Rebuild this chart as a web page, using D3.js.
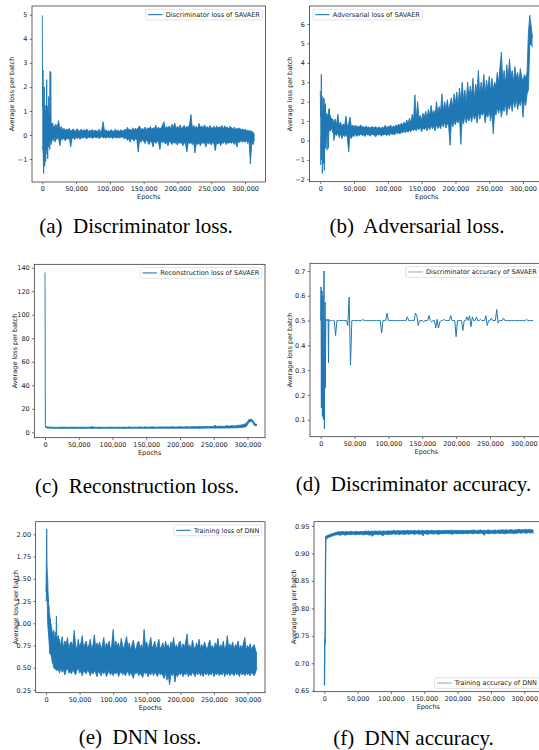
<!DOCTYPE html>
<html>
<head>
<meta charset="utf-8">
<script src="https://cdn.jsdelivr.net/npm/d3@7"></script>
<style>
  body { margin: 0; background: #fff; }
  svg { display: block; }
  .tick text, .lbl, .leg { font-family: "DejaVu Sans", sans-serif; font-size: 6.5px; fill: #222; }
  .cap { font-family: "Liberation Serif", "Times New Roman", serif; font-size: 21px; fill: #000; white-space: pre; }
</style>
</head>
<body>
<svg id="fig" width="539" height="750"></svg>
<script>
// Logging grid: every 500 epochs for the first 20k, then every 2000 epochs.
// Dense per-batch curves are stored as the high / low of each logging bin.
const EARLY_STEP = 500;
const EARLY_COUNT = 40;
const LATE_START = 20000;
const LATE_STEP = 2000;

// (a) Discriminator loss of SAVAER
const discLossHi = [
  4.97,1.2,2.7,1.0,0.9,1.7,2.0,0.8,1.25,0.9,
  0.7,1.0,0.8,2.3,0.7,1.2,0.6,0.9,0.7,1.6,
  0.6,0.9,0.6,2.65,0.5,2.6,0.5,0.5,0.45,0.45,
  0.4,0.5,0.35,0.3,0.35,0.35,0.3,0.4,0.3,0.3,
  0.45,0.3,0.6,0.25,0.35,0.2,0.28,0.18,0.25,0.2,
  0.28,0.15,0.22,0.25,0.15,0.2,0.26,0.14,0.2,0.24,
  0.15,0.22,0.18,0.25,0.14,0.2,0.16,0.23,0.15,0.2,
  0.18,0.14,0.24,0.15,0.2,0.55,0.16,0.22,0.14,0.19,
  0.15,0.22,0.17,0.14,0.24,0.16,0.2,0.14,0.22,0.18,
  0.16,0.25,0.18,0.32,0.2,0.24,0.17,0.3,0.2,0.28,
  0.22,0.3,0.38,0.2,0.28,0.22,0.33,0.2,0.3,0.25,
  0.35,0.22,0.3,0.26,0.4,0.22,0.33,0.25,0.3,0.42,
  0.55,0.25,0.35,0.28,0.38,0.24,0.45,0.3,0.5,0.26,
  0.36,0.28,0.42,0.25,0.33,0.4,0.27,0.36,0.3,0.45,
  0.85,0.28,0.4,0.3,0.36,0.26,0.48,0.3,0.38,0.27,
  0.42,0.3,0.35,0.26,0.4,0.3,0.28,0.36,0.25,0.38,
  0.26,0.35,0.3,0.4,0.25,0.38,0.28,0.34,0.24,0.36,
  0.3,0.25,0.33,0.22,0.28,0.24,0.3,0.2,0.26,0.2,
  0.24,0.18,0.2,0.16,0.18,0.14,0.12,-0.02
];
const discLossLo = [
  -0.6,-0.6,-0.5,-1.0,-1.6,-0.8,-0.5,-1.3,-0.6,-0.9,
  -1.1,-0.5,-0.6,-0.4,-0.8,-0.5,-1.0,-0.4,-0.5,-0.3,
  -0.3,-0.35,-0.6,-0.2,-0.25,-0.3,-0.4,-0.2,-0.3,-0.2,
  -0.2,-0.15,-0.15,-0.1,-0.25,-0.1,-0.1,-0.15,-0.3,-0.1,
  -0.2,-0.15,-0.12,-0.45,-0.15,-0.2,-0.1,-0.25,-0.12,-0.18,
  -0.1,-0.5,-0.15,-0.1,-0.2,-0.08,-0.15,-0.1,-0.18,-0.1,
  -0.14,-0.08,-0.12,-0.16,-0.08,-0.12,-0.06,-0.15,-0.1,-0.08,
  -0.12,-0.08,-0.15,-0.1,-0.06,-0.12,-0.09,-0.14,-0.08,-0.1,
  -0.12,-0.07,-0.15,-0.1,-0.08,-0.14,-0.08,-0.12,-0.1,-0.07,
  -0.12,-0.16,-0.1,-0.22,-0.15,-0.3,-0.12,-0.2,-0.25,-0.15,
  -0.2,-0.7,-0.18,-0.3,-0.2,-0.25,-0.35,-0.2,-0.28,-0.4,
  -0.25,-0.3,-0.5,-0.22,-0.35,-0.25,-0.3,-0.6,-0.25,-0.32,
  -0.25,-0.38,-0.28,-0.45,-0.25,-0.3,-0.4,-0.28,-0.35,-0.3,
  -0.42,-0.28,-0.35,-0.3,-0.45,-0.3,-0.38,-0.7,-0.3,-0.36,
  -0.3,-0.4,-0.3,-0.75,-0.32,-0.4,-0.3,-0.45,-0.3,-0.35,
  -0.3,-0.5,-0.3,-0.38,-0.28,-0.42,-0.3,-0.35,-0.65,-0.3,
  -0.38,-0.28,-0.45,-0.3,-0.35,-0.25,-0.4,-0.3,-0.35,-0.28,
  -0.35,-0.25,-0.4,-0.28,-0.5,-0.25,-0.32,-0.22,-0.3,-0.25,
  -0.3,-0.22,-0.35,-0.25,-1.2,-0.3,-0.4,-0.15
];

// (b) Adversarial loss of SAVAER
const advLossHi = [
  2.55,1.2,1.5,3.4,1.3,2.3,1.4,1.5,1.2,2.2,
  1.3,2.15,1.2,1.8,1.3,1.9,1.2,1.3,1.25,1.4,
  1.2,1.2,1.3,1.35,1.2,1.6,1.3,1.65,1.2,1.3,
  1.2,1.2,1.1,1.1,1.15,1.0,1.1,1.1,1.05,0.95,
  0.9,1.1,0.8,1.35,0.75,0.95,0.7,0.85,0.75,1.25,
  0.7,0.85,1.2,0.7,0.8,0.65,0.8,0.68,0.75,0.7,
  0.8,0.68,0.72,0.65,0.75,0.66,0.7,0.62,0.72,0.68,
  0.65,0.72,0.6,0.7,0.66,0.62,0.7,0.64,0.78,0.66,
  0.72,0.68,0.8,0.66,0.74,0.7,0.8,0.72,0.85,0.75,
  0.9,0.78,0.95,0.82,1.05,0.88,1.15,0.9,1.35,1.0,
  2.35,1.05,2.0,1.15,1.3,1.05,1.4,1.2,1.5,1.15,
  1.6,1.25,1.8,1.35,1.55,1.3,2.0,1.4,1.75,1.5,
  2.4,1.5,2.0,1.6,2.1,1.55,1.9,2.2,1.7,2.4,
  1.9,2.5,1.8,2.7,2.0,3.0,2.1,2.6,1.9,3.0,
  2.2,2.8,2.3,3.2,2.1,2.9,2.5,3.6,2.3,3.0,
  2.5,3.4,2.4,3.1,2.6,3.3,2.5,3.2,2.6,3.0,
  2.8,3.5,2.9,3.8,4.55,3.0,3.6,2.9,3.9,3.1,
  4.2,3.2,3.6,3.0,3.8,3.2,3.5,3.0,3.7,3.3,
  3.0,3.4,3.2,3.5,5.5,6.45,5.9,5.3
];
const advLossLo = [
  -1.25,-1.25,-0.5,0.2,-1.0,-0.3,-1.7,-0.5,-0.5,-0.3,
  -1.2,-0.2,-1.55,-0.3,0.1,-0.2,-0.4,0.1,0.2,0.2,
  -0.5,0.3,0.4,0.3,-0.4,0.4,0.5,0.5,0.6,0.5,
  0.5,0.55,0.7,0.6,0.6,0.55,0.4,0.5,0.5,0.45,
  0.0,0.35,0.25,0.4,0.15,0.35,0.1,0.3,0.2,0.35,
  0.15,-0.6,0.25,0.1,0.3,0.2,0.35,0.2,0.3,0.25,
  0.35,0.25,0.3,0.2,0.35,0.28,0.3,0.22,0.35,0.28,
  0.3,0.18,0.32,0.27,0.35,0.22,0.3,0.28,0.34,0.25,
  0.33,0.25,0.38,0.3,0.35,0.28,0.42,0.35,0.4,0.33,
  0.45,0.38,0.5,0.4,0.5,0.42,0.55,0.45,0.6,0.5,
  0.62,0.5,0.65,0.55,0.7,0.45,0.68,0.55,0.7,0.5,
  0.72,0.55,0.8,0.6,0.75,0.5,0.85,0.62,0.8,0.6,
  0.9,0.7,0.95,0.65,0.9,0.75,-0.25,0.95,0.7,1.0,
  0.8,1.1,0.9,1.2,-0.2,1.1,0.85,1.3,0.9,1.2,
  1.0,1.3,0.95,1.4,1.1,1.3,0.9,1.5,1.1,1.4,
  1.3,1.5,0.9,1.4,1.2,1.6,1.0,1.5,0.35,1.5,
  1.3,1.7,1.4,1.8,1.2,1.7,1.5,1.9,1.3,1.8,
  1.6,2.0,1.5,2.1,1.7,2.2,1.6,2.0,1.8,2.2,
  1.2,2.1,1.8,2.4,2.6,4.9,5.0,4.8
];

// (c) Reconstruction loss of SAVAER
const reconLossHi = [
  136,6.5,5.2,5.0,5.0,4.8,4.8,4.6,4.6,4.5,
  4.5,4.5,4.4,4.5,4.5,4.4,4.4,4.4,4.3,4.3,
  4.4,4.3,4.3,4.3,4.2,4.3,4.3,4.2,4.2,4.3,
  4.3,4.2,4.2,4.2,4.1,4.2,4.3,4.2,4.2,4.2,
  4.3,4.4,4.3,4.3,4.4,4.4,4.2,4.3,4.3,4.3,
  4.4,4.4,4.3,4.3,4.3,4.2,4.4,4.4,4.3,4.3,
  4.3,4.2,4.4,4.4,4.3,5.0,4.3,4.3,4.2,4.2,
  4.4,4.4,4.3,4.3,4.2,4.2,4.3,4.3,4.4,4.4,
  4.3,4.3,4.2,4.2,4.4,4.4,4.3,4.3,4.4,4.4,
  4.3,4.3,4.5,4.5,4.3,4.3,4.4,4.4,4.3,4.3,
  4.5,4.5,4.4,4.4,4.6,4.6,4.4,4.4,4.5,4.5,
  4.6,4.6,4.4,4.4,4.5,4.5,4.6,4.6,4.5,4.5,
  4.6,4.6,4.5,4.5,4.7,4.7,4.5,4.5,4.6,4.6,
  4.7,4.7,4.5,4.5,4.8,4.8,4.6,4.6,4.7,4.7,
  4.8,4.8,4.7,4.7,4.9,4.9,4.7,4.7,5.0,5.0,
  4.8,4.8,5.0,5.0,4.9,4.9,6.0,5.1,5.1,5.1,
  5.2,5.2,5.0,5.0,5.5,5.5,5.3,5.3,5.6,5.6,
  5.4,5.4,5.8,5.8,6.0,6.0,6.5,6.5,7.0,7.5,
  9.0,10.8,11.0,11.0,10.0,8.0,7.0,6.8
];
const reconLossLo = [
  4.5,5.0,4.2,4.0,3.9,3.8,3.8,3.7,3.7,3.6,
  3.6,3.6,3.5,3.5,3.5,3.5,3.5,3.4,3.4,3.4,
  3.4,3.4,3.4,3.4,3.4,3.4,3.3,3.3,3.4,3.3,
  3.3,3.3,3.3,3.3,3.3,3.3,3.3,3.3,3.3,3.3,
  3.4,3.4,3.3,3.3,3.4,3.4,3.3,3.3,3.4,3.4,
  3.4,3.4,3.3,3.3,3.4,3.4,3.4,3.4,3.3,3.3,
  3.4,3.4,3.4,3.4,3.3,3.3,3.4,3.4,3.4,3.4,
  3.3,3.3,3.4,3.4,3.4,3.4,3.4,3.4,3.4,3.4,
  3.4,3.4,3.4,3.4,3.4,3.4,3.4,3.4,3.3,3.3,
  3.4,3.4,3.4,3.4,3.4,3.4,3.4,3.4,3.4,3.4,
  3.4,3.4,3.4,3.4,3.4,3.4,3.4,3.4,3.4,3.4,
  3.4,3.4,3.4,3.4,3.5,3.5,3.4,3.4,3.5,3.5,
  3.5,3.5,3.4,3.4,3.5,3.5,3.5,3.5,3.5,3.5,
  3.5,3.5,3.5,3.5,3.5,3.5,3.5,3.5,3.5,3.5,
  3.5,3.5,3.5,3.5,3.5,3.5,3.5,3.5,3.6,3.6,
  3.6,3.6,3.6,3.6,3.6,3.6,3.6,3.6,3.6,3.6,
  3.6,3.6,3.6,3.6,3.7,3.7,3.7,3.7,3.7,3.7,
  3.8,3.8,3.9,3.9,4.0,4.0,4.2,4.3,4.5,4.8,
  6.5,8.5,9.0,9.5,8.0,6.0,5.5,5.8
];

// (d) Discriminator accuracy of SAVAER (one value per logging step)
const discAcc = [
  0.5,0.636,0.147,0.59,0.62,0.113,0.6,0.42,0.1,0.58,
  0.7,0.063,0.43,0.575,0.23,0.5,0.505,0.5,0.5,0.505,
  0.5,0.5,0.5,0.33,0.505,0.5,0.5,0.5,0.5,0.5,
  0.5,0.5,0.5,0.5,0.5,0.5,0.5,0.5,0.5,0.5,
  0.5,0.44,0.5,0.5,0.5,0.5,0.5,0.5,0.5,0.5,
  0.48,0.595,0.32,0.5,0.5,0.5,0.5,0.5,0.5,0.5,
  0.5,0.505,0.5,0.5,0.5,0.5,0.5,0.5,0.5,0.5,
  0.5,0.5,0.5,0.5,0.5,0.45,0.5,0.5,0.5,0.53,
  0.5,0.5,0.5,0.5,0.5,0.5,0.5,0.5,0.5,0.5,
  0.5,0.5,0.5,0.5,0.515,0.5,0.5,0.5,0.5,0.5,
  0.53,0.52,0.48,0.5,0.5,0.5,0.495,0.5,0.5,0.5,
  0.52,0.5,0.495,0.5,0.5,0.47,0.505,0.47,0.495,0.5,
  0.5,0.505,0.5,0.5,0.5,0.5,0.52,0.5,0.5,0.5,
  0.435,0.5,0.5,0.5,0.5,0.46,0.5,0.5,0.515,0.5,
  0.52,0.475,0.515,0.5,0.5,0.515,0.5,0.5,0.505,0.5,
  0.5,0.5,0.52,0.48,0.5,0.5,0.51,0.5,0.5,0.5,
  0.545,0.49,0.5,0.5,0.5,0.51,0.5,0.5,0.5,0.5,
  0.5,0.5,0.5,0.5,0.5,0.5,0.5,0.5,0.5,0.5,
  0.5,0.5,0.505,0.5,0.5,0.5,0.5,0.5
];

// (e) Training loss of DNN
const dnnLossHi = [
  1.35,1.65,2.06,1.65,1.55,1.5,1.35,1.3,1.2,1.2,
  1.1,1.1,1.05,1.05,1.0,1.0,0.95,0.95,0.9,0.9,
  0.88,0.88,0.92,0.92,0.85,0.85,0.8,0.9,0.9,0.9,
  0.85,1.08,0.85,0.85,0.82,0.82,0.86,0.86,0.8,0.8,
  0.82,0.74,0.85,0.72,0.8,0.76,0.84,0.7,0.78,0.79,
  0.74,0.92,0.76,0.7,0.82,0.73,0.78,0.86,0.72,0.77,
  0.8,0.71,0.76,0.82,0.7,0.76,0.87,0.72,0.78,0.74,
  0.79,0.7,0.76,0.84,0.71,0.78,0.74,0.8,0.7,0.76,
  0.93,0.72,0.8,0.74,0.78,0.7,0.83,0.75,0.71,0.79,
  0.85,0.72,0.78,0.7,0.76,0.81,0.73,0.69,0.78,0.8,
  0.72,0.76,0.7,0.93,0.75,0.79,0.71,0.77,0.84,0.72,
  0.75,0.8,0.7,0.76,0.82,0.71,0.74,0.78,0.69,0.8,
  0.73,0.76,0.7,0.79,0.74,0.84,0.71,0.76,0.72,0.78,
  0.8,0.7,0.77,0.73,0.79,0.88,0.72,0.76,0.7,0.81,
  0.74,0.7,0.78,0.73,0.82,0.71,0.76,0.72,0.79,0.74,
  0.7,0.77,0.81,0.72,0.75,0.7,0.78,0.74,0.83,0.71,
  0.76,0.72,0.8,0.7,0.75,0.86,0.71,0.77,0.73,0.79,
  0.7,0.76,0.74,0.8,0.71,0.75,0.72,0.78,0.84,0.7,
  0.75,0.72,0.77,0.7,0.74,0.76,0.7,0.65
];
const dnnLossLo = [
  1.25,1.3,1.4,1.25,1.2,1.0,0.95,0.9,0.85,0.8,
  0.75,0.66,0.66,0.7,0.65,0.65,0.62,0.6,0.58,0.55,
  0.55,0.55,0.52,0.5,0.5,0.5,0.5,0.48,0.5,0.5,
  0.48,0.5,0.47,0.47,0.48,0.5,0.47,0.47,0.48,0.46,
  0.44,0.5,0.45,0.48,0.42,0.47,0.5,0.44,0.46,0.43,
  0.48,0.45,0.42,0.47,0.5,0.44,0.46,0.41,0.47,0.45,
  0.43,0.48,0.45,0.41,0.46,0.43,0.47,0.44,0.4,0.46,
  0.44,0.41,0.46,0.43,0.47,0.4,0.44,0.46,0.42,0.45,
  0.41,0.45,0.43,0.47,0.4,0.44,0.46,0.42,0.45,0.41,
  0.44,0.46,0.41,0.45,0.42,0.38,0.45,0.43,0.46,0.41,
  0.44,0.42,0.39,0.46,0.43,0.45,0.4,0.44,0.42,0.46,
  0.41,0.45,0.43,0.4,0.46,0.42,0.44,0.41,0.38,0.45,
  0.36,0.43,0.31,0.44,0.41,0.45,0.34,0.43,0.4,0.45,
  0.42,0.45,0.4,0.44,0.42,0.46,0.4,0.44,0.41,0.45,
  0.43,0.4,0.45,0.42,0.46,0.41,0.44,0.4,0.45,0.42,
  0.45,0.41,0.44,0.42,0.46,0.4,0.44,0.42,0.45,0.41,
  0.44,0.42,0.46,0.4,0.44,0.42,0.45,0.41,0.44,0.43,
  0.41,0.45,0.42,0.44,0.4,0.46,0.42,0.44,0.41,0.45,
  0.42,0.44,0.41,0.45,0.43,0.41,0.45,0.5
];

// (f) Training accuracy of DNN
const dnnAccHi = [
  0.66,0.745,0.745,0.87,0.93,0.932,0.931,0.932,0.932,0.933,
  0.933,0.933,0.933,0.934,0.934,0.934,0.934,0.935,0.935,0.935,
  0.935,0.936,0.936,0.936,0.936,0.936,0.937,0.937,0.937,0.937,
  0.937,0.937,0.938,0.938,0.938,0.938,0.938,0.939,0.939,0.939,
  0.939,0.94,0.939,0.94,0.94,0.939,0.94,0.94,0.939,0.94,
  0.94,0.94,0.939,0.94,0.94,0.94,0.939,0.94,0.94,0.94,
  0.94,0.941,0.94,0.941,0.94,0.94,0.941,0.94,0.941,0.941,
  0.94,0.941,0.941,0.94,0.941,0.941,0.94,0.941,0.941,0.941,
  0.941,0.941,0.942,0.941,0.941,0.942,0.941,0.941,0.942,0.941,
  0.942,0.941,0.942,0.942,0.941,0.942,0.941,0.942,0.942,0.941,
  0.942,0.942,0.941,0.942,0.942,0.941,0.942,0.942,0.942,0.941,
  0.942,0.942,0.942,0.941,0.942,0.942,0.942,0.942,0.941,0.942,
  0.942,0.942,0.942,0.942,0.942,0.942,0.942,0.942,0.942,0.942,
  0.942,0.942,0.942,0.942,0.942,0.942,0.942,0.942,0.942,0.942,
  0.942,0.942,0.943,0.942,0.942,0.942,0.942,0.943,0.942,0.942,
  0.942,0.942,0.942,0.943,0.942,0.942,0.942,0.942,0.943,0.942,
  0.942,0.943,0.942,0.943,0.943,0.942,0.943,0.943,0.942,0.943,
  0.943,0.943,0.942,0.943,0.943,0.943,0.944,0.943,0.943,0.943,
  0.943,0.944,0.943,0.943,0.944,0.943,0.943,0.942
];
const dnnAccLo = [
  0.66,0.66,0.735,0.735,0.87,0.926,0.926,0.927,0.927,0.928,
  0.928,0.928,0.929,0.929,0.929,0.93,0.93,0.93,0.93,0.931,
  0.931,0.931,0.931,0.932,0.932,0.932,0.932,0.932,0.933,0.933,
  0.933,0.933,0.933,0.933,0.934,0.934,0.934,0.934,0.934,0.934,
  0.934,0.934,0.933,0.934,0.935,0.934,0.933,0.935,0.934,0.935,
  0.934,0.935,0.935,0.934,0.934,0.935,0.934,0.935,0.935,0.934,
  0.934,0.935,0.935,0.934,0.933,0.935,0.931,0.934,0.935,0.935,
  0.934,0.935,0.935,0.934,0.932,0.935,0.935,0.935,0.934,0.935,
  0.935,0.935,0.936,0.935,0.935,0.936,0.934,0.935,0.936,0.935,
  0.935,0.935,0.936,0.935,0.935,0.936,0.936,0.935,0.935,0.936,
  0.936,0.935,0.935,0.936,0.932,0.936,0.936,0.935,0.935,0.936,
  0.936,0.936,0.935,0.936,0.936,0.935,0.935,0.936,0.936,0.936,
  0.936,0.936,0.937,0.936,0.936,0.936,0.935,0.936,0.937,0.936,
  0.936,0.936,0.937,0.936,0.936,0.936,0.937,0.936,0.936,0.937,
  0.937,0.936,0.936,0.937,0.937,0.936,0.936,0.937,0.937,0.936,
  0.933,0.937,0.937,0.936,0.936,0.937,0.937,0.936,0.936,0.937,
  0.937,0.937,0.936,0.937,0.937,0.936,0.936,0.937,0.937,0.937,
  0.937,0.937,0.936,0.937,0.937,0.937,0.938,0.937,0.937,0.938,
  0.938,0.937,0.937,0.938,0.938,0.937,0.938,0.937
];

// Tick values
const epochTicks = [0, 50000, 100000, 150000, 200000, 250000, 300000];
const ticksDiscLoss = [-1, 0, 1, 2, 3, 4, 5];
const ticksAdvLoss = [-2, -1, 0, 1, 2, 3, 4, 5, 6];
const ticksRecon = [0, 20, 40, 60, 80, 100, 120, 140];
const ticksDiscAcc = [0.1, 0.2, 0.3, 0.4, 0.5, 0.6, 0.7];
const ticksDnnLoss = [0.25, 0.5, 0.75, 1.0, 1.25, 1.5, 1.75, 2.0];
const ticksDnnAcc = [0.65, 0.70, 0.75, 0.80, 0.85, 0.90, 0.95];

// Text
const legendLabels = [
  "Discriminator loss of SAVAER", "Adversarial loss of SAVAER",
  "Reconstruction loss of SAVAER", "Discriminator accuracy of SAVAER",
  "Training loss of DNN", "Training accuracy of DNN"
];
const captions = [
  "(a)  Discriminator loss.", "(b)  Adversarial loss.",
  "(c)  Reconstruction loss.", "(d)  Discriminator accuracy.",
  "(e)  DNN loss.", "(f)  DNN accuracy."
];
const yTitle = "Average loss per batch";
const xTitle = "Epochs";

const BLUE = "#1f77b4";
const fmtInt = d3.format(",");

// Panel geometry: frame box, pixel anchors per axis, legend corner, caption spot.
const panels = [
  { hi: discLossHi, lo: discLossLo, ticks: ticksDiscLoss, fmt: d3.format("d"),
    frame: [32, 6, 265.5, 182], xa: [42.3, 245], ya: [[0, 135], [5, 14.7]],
    legend: "ur", faded: false, cap: [136, 233] },
  { hi: advLossHi, lo: advLossLo, ticks: ticksAdvLoss, fmt: d3.format("d"),
    frame: [309.5, 6, 544, 181.7], xa: [320.3, 523], ya: [[-2, 179.3], [6, 24]],
    legend: "ul", faded: false, cap: [417, 233] },
  { hi: reconLossHi, lo: reconLossLo, ticks: ticksRecon, fmt: d3.format("d"),
    frame: [34.3, 264.3, 265, 437.7], xa: [45, 247.5], ya: [[0, 432.3], [140, 267.7]],
    legend: "ur", faded: false, cap: [137, 493] },
  { line: discAcc, ticks: ticksDiscAcc, fmt: d3.format(".1f"),
    frame: [310, 263.3, 542.5, 436.7], xa: [320.7, 523.8], ya: [[0.1, 419.7], [0.7, 271]],
    legend: "ur", faded: true, cap: [413.5, 491] },
  { hi: dnnLossHi, lo: dnnLossLo, ticks: ticksDnnLoss, fmt: d3.format(".2f"),
    frame: [35.7, 521.7, 265, 692.7], xa: [46, 247.5], ya: [[0.25, 690], [2.0, 534.3]],
    legend: "ur", faded: false, cap: [140, 744] },
  { hi: dnnAccHi, lo: dnnAccLo, ticks: ticksDnnAcc, fmt: d3.format(".2f"),
    frame: [314, 521.7, 542.6, 691.7], xa: [324.3, 524.2], ya: [[0.65, 690.7], [0.95, 526]],
    legend: "lr", faded: true, cap: [413.5, 745] }
];

function epochAt(i) {
  return i < EARLY_COUNT ? i * EARLY_STEP : LATE_START + (i - EARLY_COUNT) * LATE_STEP;
}

const svg = d3.select("#fig");
svg.append("rect").attr("width", 539).attr("height", 750).attr("fill", "#fff");

panels.forEach((p, idx) => {
  const [L, T, R, B] = p.frame;
  const x = d3.scaleLinear().domain([0, 300000]).range(p.xa);
  const y = d3.scaleLinear().domain([p.ya[0][0], p.ya[1][0]]).range([p.ya[0][1], p.ya[1][1]]);
  const g = svg.append("g");

  const clipId = "clip" + idx;
  g.append("clipPath").attr("id", clipId)
    .append("rect").attr("x", L).attr("y", T).attr("width", R - L).attr("height", B - T);
  const plot = g.append("g").attr("clip-path", `url(#${clipId})`);

  if (p.line) {
    const line = d3.line().x((d, i) => x(epochAt(i))).y(d => y(d));
    plot.append("path").datum(p.line)
      .attr("fill", "none").attr("stroke", BLUE).attr("stroke-width", 1)
      .attr("stroke-linejoin", "round").attr("d", line);
  } else {
    const band = d3.area()
      .x((d, i) => x(epochAt(i)))
      .y0((d, i) => y(p.lo[i]))
      .y1(d => y(d));
    plot.append("path").datum(p.hi).attr("fill", BLUE).attr("stroke", "none").attr("d", band);
    const edge = d3.line().x((d, i) => x(epochAt(i))).y(d => y(d));
    [p.hi, p.lo].forEach(arr => {
      plot.append("path").datum(arr)
        .attr("fill", "none").attr("stroke", BLUE).attr("stroke-width", 0.9)
        .attr("stroke-linejoin", "round").attr("d", edge);
    });
  }

  // axes
  const xAxis = d3.axisBottom(x).tickValues(epochTicks).tickFormat(fmtInt).tickSize(2.3).tickPadding(2.3);
  const gx = g.append("g").attr("transform", `translate(0,${B})`).call(xAxis);
  const yAxis = d3.axisLeft(y).tickValues(p.ticks).tickFormat(p.fmt).tickSize(2.3).tickPadding(2.3);
  const gy = g.append("g").attr("transform", `translate(${L},0)`).call(yAxis);
  [gx, gy].forEach(a => {
    a.select(".domain").remove();
    a.attr("font-size", null).attr("font-family", null);
    a.selectAll(".tick line").attr("stroke", "#222").attr("stroke-width", 0.6);
    a.selectAll(".tick text").attr("fill", null);
  });

  // frame
  g.append("rect").attr("x", L).attr("y", T).attr("width", R - L).attr("height", B - T)
    .attr("fill", "none").attr("stroke", "#222").attr("stroke-width", 0.7);

  // axis titles
  g.append("text").attr("class", "lbl")
    .attr("text-anchor", "middle")
    .attr("x", (L + R) / 2).attr("y", B + 17.3)
    .text(xTitle);
  g.append("text").attr("class", "lbl")
    .attr("text-anchor", "middle")
    .attr("transform", `translate(${L - 19.8},${(T + B) / 2}) rotate(-90)`)
    .attr("dy", "0.35em")
    .text(yTitle);

  // legend
  const lg = g.append("g");
  const box = lg.append("rect");
  const txt = lg.append("text").attr("class", "leg").text(legendLabels[idx]);
  const tw = txt.node().getComputedTextLength();
  const bw = 2.4 + 14.3 + 3.3 + tw + 2.4, bh = 10.7, inset = 3.3;
  let bx, by;
  if (p.legend === "ur") { bx = R - inset - bw; by = T + inset; }
  else if (p.legend === "ul") { bx = L + inset; by = T + inset; }
  else { bx = R - inset - bw; by = B - inset - bh; }
  box.attr("x", bx).attr("y", by).attr("width", bw).attr("height", bh)
    .attr("rx", 1.3).attr("fill", "#fff").attr("fill-opacity", 0.8)
    .attr("stroke", "#d0d0d0").attr("stroke-width", 0.6);
  lg.append("line").attr("x1", bx + 2.4).attr("x2", bx + 16.7)
    .attr("y1", by + bh / 2).attr("y2", by + bh / 2)
    .attr("stroke", BLUE).attr("stroke-opacity", p.faded ? 0.55 : 1).attr("stroke-width", 1.1);
  txt.attr("x", bx + 20).attr("y", by + bh / 2).attr("dy", "0.35em");

  // caption
  svg.append("text").attr("class", "cap")
    .attr("text-anchor", "middle")
    .attr("x", p.cap[0]).attr("y", p.cap[1])
    .text(captions[idx]);
});
</script>
</body>
</html>
